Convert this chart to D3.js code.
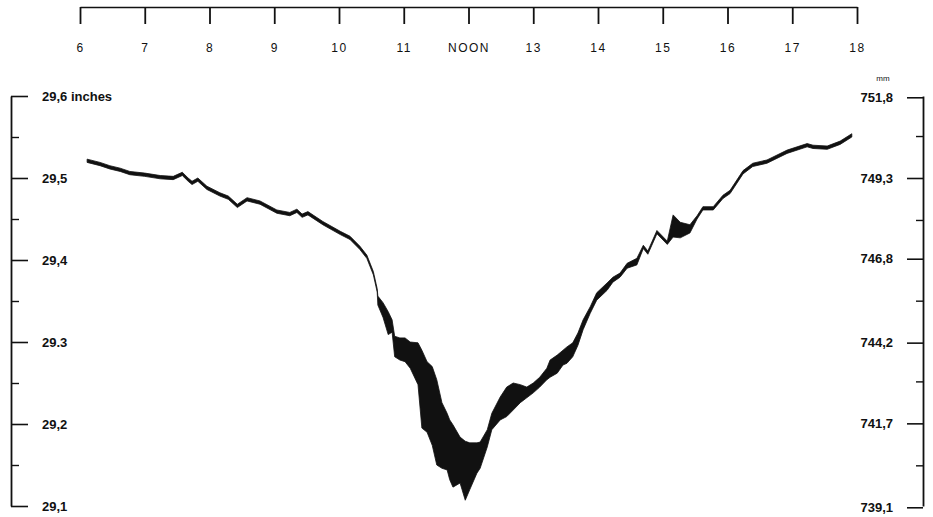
<!DOCTYPE html>
<html>
<head>
<meta charset="utf-8">
<script src="https://cdn.jsdelivr.net/npm/d3@7"></script>
<style>
  html, body { margin: 0; padding: 0; background: #fff; }
  svg { display: block; }
  text { font-family: "Liberation Sans", Arial, sans-serif; fill: #111; }
</style>
</head>
<body>
<svg id="chart" width="933" height="517"></svg>
<script>
// ---- data ----
const hourTicks = [6, 7, 8, 9, 10, 11, 12, 13, 14, 15, 16, 17, 18];
const hourLabels = ["6", "7", "8", "9", "10", "11", "NOON", "13", "14", "15", "16", "17", "18"];
const inchTicks = [29.1, 29.2, 29.3, 29.4, 29.5, 29.6];
const inchLabels = ["29,1", "29,2", "29.3", "29,4", "29,5", "29,6 inches"];
const inchMinor = [29.15, 29.25, 29.35, 29.45, 29.55];
const mmTicks = [739.1, 741.7, 744.2, 746.8, 749.3, 751.8];
const mmLabels = ["739,1", "741,7", "744,2", "746,8", "749,3", "751,8"];
const mmMinor = [740.4, 743.0, 745.5, 748.0, 750.6];

// time of day (hours)
const hours = [6.11,6.31,6.46,6.62,6.77,7.00,7.24,7.44,7.58,7.67,7.73,7.82,7.96,8.16,8.29,8.43,8.58,8.78,9.04,9.24,9.35,9.43,9.52,9.75,10.02,10.17,10.32,10.43,10.53,10.59,
  10.60,10.68,10.76,10.82,10.86,10.94,11.02,11.10,11.22,11.28,11.36,11.44,11.51,11.59,11.67,11.71,11.76,11.87,11.95,12.02,12.13,12.18,12.29,12.36,12.49,12.59,12.69,12.80,12.90,13.00,13.10,13.21,13.26,13.37,13.46,13.52,13.61,13.69,13.77,13.88,13.98,14.14,14.23,14.34,14.45,14.60,
  14.70,14.77,14.91,15.07,15.16,15.27,15.42,15.53,15.62,15.78,15.93,16.04,16.24,16.39,16.61,16.92,17.23,17.32,17.54,17.74,17.92];
// upper edge of the pen trace (inches of mercury)
const upperIn = [29.523,29.519,29.515,29.512,29.508,29.506,29.503,29.502,29.507,29.500,29.496,29.500,29.490,29.482,29.478,29.468,29.476,29.472,29.461,29.458,29.462,29.456,29.459,29.447,29.435,29.429,29.417,29.406,29.386,29.365,
  29.356,29.348,29.337,29.327,29.307,29.305,29.305,29.300,29.299,29.290,29.276,29.270,29.254,29.226,29.213,29.205,29.199,29.184,29.179,29.177,29.177,29.178,29.193,29.213,29.233,29.245,29.250,29.248,29.245,29.250,29.257,29.268,29.278,29.284,29.290,29.294,29.299,29.311,29.327,29.343,29.360,29.372,29.379,29.384,29.396,29.402,
  29.418,29.411,29.436,29.423,29.455,29.446,29.443,29.454,29.465,29.465,29.479,29.485,29.509,29.518,29.522,29.534,29.542,29.540,29.539,29.545,29.554];
// lower edge of the pen trace (inches of mercury)
const lowerIn = [29.519,29.515,29.511,29.508,29.504,29.502,29.499,29.498,29.503,29.496,29.492,29.496,29.486,29.478,29.474,29.464,29.472,29.468,29.457,29.454,29.458,29.452,29.455,29.443,29.431,29.425,29.413,29.402,29.382,29.361,
  29.345,29.330,29.309,29.312,29.282,29.278,29.276,29.268,29.248,29.195,29.190,29.174,29.150,29.146,29.144,29.132,29.123,29.128,29.107,29.120,29.140,29.146,29.172,29.193,29.205,29.209,29.217,29.226,29.232,29.238,29.245,29.254,29.257,29.262,29.272,29.274,29.282,29.296,29.315,29.335,29.351,29.363,29.373,29.379,29.390,29.394,
  29.414,29.407,29.432,29.419,29.428,29.427,29.433,29.450,29.461,29.461,29.475,29.481,29.505,29.514,29.518,29.530,29.538,29.536,29.535,29.541,29.550];

// ---- drawing ----
const svg = d3.select("#chart");
const ink = "#111";

const x = d3.scaleLinear().domain([6, 18]).range([80, 857]);
const y = d3.scaleLinear().domain([29.1, 29.6]).range([506, 96]);
const yMm = d3.scaleLinear().domain([29.1 * 25.4, 29.6 * 25.4]).range([506, 96]);

// top time axis
const gTop = svg.append("g").attr("transform", "translate(0,7)")
  .call(d3.axisBottom(x).tickValues(hourTicks)
    .tickFormat((d, i) => hourLabels[i]).tickSize(17).tickPadding(19).tickSizeOuter(0));
gTop.select(".domain").attr("stroke", ink).attr("stroke-width", 1.6);
gTop.selectAll(".tick line").attr("stroke", ink).attr("stroke-width", 1.8);
gTop.selectAll(".tick text").attr("font-size", 12).attr("letter-spacing", 1.5)
  .style("font-family", "'Liberation Sans', Arial, sans-serif").attr("fill", ink);

// left inches axis
const gLeft = svg.append("g").attr("transform", "translate(11,0)")
  .call(d3.axisRight(y).tickValues(inchTicks)
    .tickFormat((d, i) => inchLabels[i]).tickSize(17).tickPadding(14).tickSizeOuter(0));
gLeft.select(".domain").attr("stroke", ink).attr("stroke-width", 1.8);
gLeft.selectAll(".tick line").attr("stroke", ink).attr("stroke-width", 1.6);
gLeft.selectAll(".tick text").attr("font-size", 13).attr("font-weight", "bold")
  .style("font-family", "'Liberation Sans', Arial, sans-serif").attr("fill", ink);
const gLeftMinor = svg.append("g").attr("transform", "translate(11,0)")
  .call(d3.axisRight(y).tickValues(inchMinor).tickSize(8).tickFormat(""));
gLeftMinor.select(".domain").remove();
gLeftMinor.selectAll(".tick line").attr("stroke", ink).attr("stroke-width", 1.4);

// right millimetre axis
const gRight = svg.append("g").attr("transform", "translate(923,0)")
  .call(d3.axisLeft(yMm).tickValues(mmTicks)
    .tickFormat((d, i) => mmLabels[i]).tickSize(16).tickPadding(14).tickSizeOuter(0));
gRight.select(".domain").attr("stroke", ink).attr("stroke-width", 1.8);
gRight.selectAll(".tick line").attr("stroke", ink).attr("stroke-width", 1.6);
gRight.selectAll(".tick text").attr("font-size", 13).attr("font-weight", "bold")
  .style("font-family", "'Liberation Sans', Arial, sans-serif").attr("fill", ink);
const gRightMinor = svg.append("g").attr("transform", "translate(923,0)")
  .call(d3.axisLeft(yMm).tickValues(mmMinor).tickSize(7).tickFormat(""));
gRightMinor.select(".domain").remove();
gRightMinor.selectAll(".tick line").attr("stroke", ink).attr("stroke-width", 1.4);

svg.append("text").attr("x", 883).attr("y", 81).attr("text-anchor", "middle")
  .attr("font-size", 8).text("mm");

// pen trace as a band between its upper and lower edges
const pts = hours.map((h, i) => ({ h, hi: upperIn[i], lo: lowerIn[i] }));
const area = d3.area().x(d => x(d.h)).y0(d => y(d.lo)).y1(d => y(d.hi)).curve(d3.curveLinear);
svg.append("path").datum(pts).attr("d", area)
  .attr("fill", ink).attr("stroke", ink).attr("stroke-width", 0.8).attr("stroke-linejoin", "round");
</script>
</body>
</html>
